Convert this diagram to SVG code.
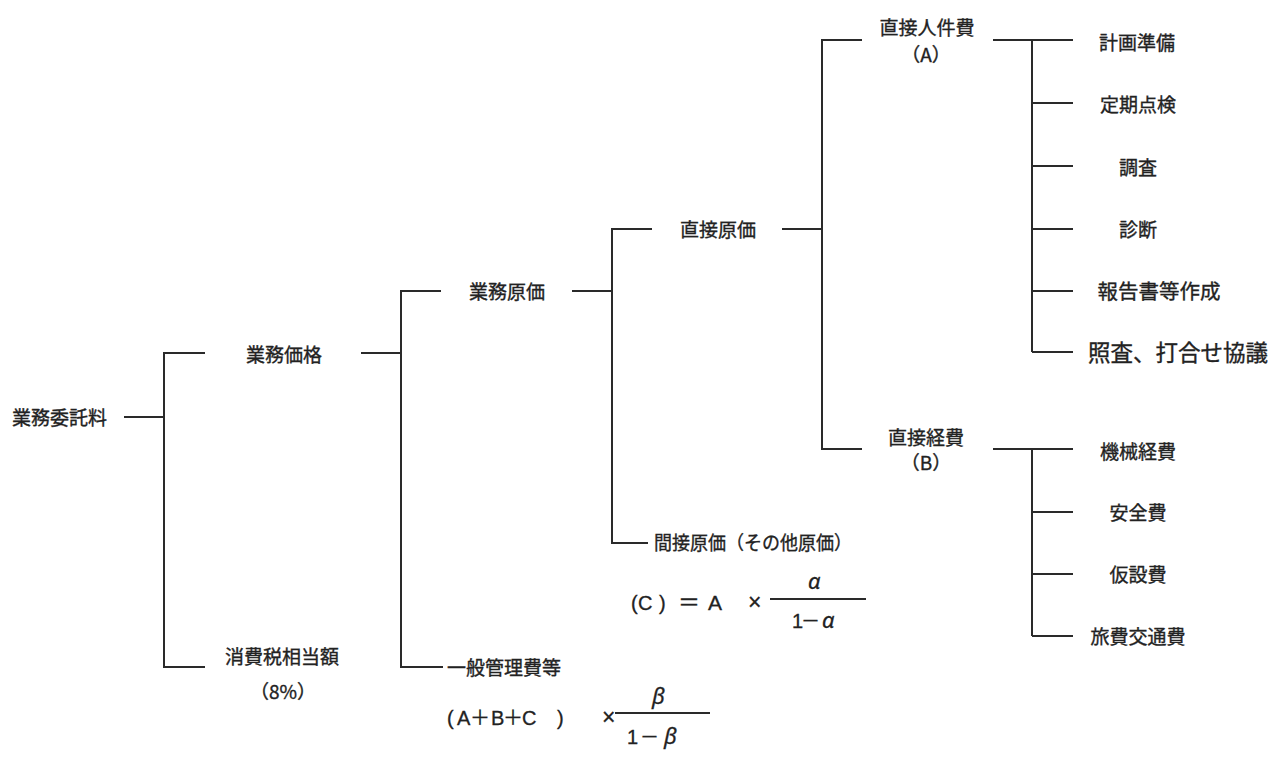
<svg xmlns="http://www.w3.org/2000/svg" width="1270" height="758" viewBox="0 0 1270 758">
<style>
.t{font-family:"Noto Sans CJK JP","Noto Sans",sans-serif;font-size:19px;fill:#222;stroke:#222;stroke-width:0.35;text-anchor:middle}
.s{text-anchor:start}
.f{font-family:"Liberation Sans","Noto Sans CJK JP",sans-serif;font-size:20px;fill:#222;stroke:#222;stroke-width:0.3}
.w{font-family:"Noto Sans CJK JP","Noto Sans",sans-serif;font-size:19px;fill:#222;stroke:#222;stroke-width:0.3}
.g{font-family:"Noto Sans","Liberation Sans",sans-serif;font-style:italic;font-size:22px;fill:#222;stroke:#222;stroke-width:0.3}
.c{fill:none;stroke:#2a2a2a;stroke-width:2}
</style>
<rect width="1270" height="758" fill="#fff"/>
<g id="connectors" class="c">
<path d="M124 417H164"/>
<path d="M205 353H164V667H205"/>
<path d="M361 353H401"/>
<path d="M441 291H401V667H443"/>
<path d="M572 291H612"/>
<path d="M652 229H612V543H648"/>
<path d="M782 229H822"/>
<path d="M862 40H822V449H862"/>
<path d="M993 40H1073M1032 40V352M1032 103H1073M1032 166H1073M1032 229H1073M1032 291H1073M1032 352H1073"/>
<path d="M993 449H1073M1032 449V636M1032 512H1073M1032 574H1073M1032 636H1073"/>
<path d="M770 599H866"/>
<path d="M615 713H710"/>
</g>
<g id="n-itaku"><text class="t s" x="12" y="425">業務委託料</text></g>
<g id="n-kakaku"><text class="t" x="284" y="362">業務価格</text></g>
<g id="n-shohizei"><text class="t" x="282" y="664">消費税相当額</text><text class="t" x="283" y="699">（8%）</text></g>
<g id="n-genka"><text class="t" x="507" y="299">業務原価</text></g>
<g id="n-ippan"><text class="t s" x="447" y="675">一般管理費等</text></g>
<g id="n-chokusetsu"><text class="t" x="718" y="237">直接原価</text></g>
<g id="n-kansetsu"><text class="t s" x="654" y="550" textLength="198" lengthAdjust="spacingAndGlyphs">間接原価（その他原価）</text></g>
<g id="n-jinken"><text class="t" x="927" y="35">直接人件費</text><text class="t" x="926" y="62">（A）</text></g>
<g id="n-keihi"><text class="t" x="926" y="445">直接経費</text><text class="t" x="926" y="470">（B）</text></g>
<g id="n-keikaku"><text class="t" x="1137" y="50">計画準備</text></g>
<g id="n-teiki"><text class="t" x="1138" y="112">定期点検</text></g>
<g id="n-chosa"><text class="t" x="1138" y="175">調査</text></g>
<g id="n-shindan"><text class="t" x="1138" y="237">診断</text></g>
<g id="n-hokoku"><text class="t" x="1159" y="299" style="font-size:20.5px">報告書等作成</text></g>
<g id="n-shosa"><text class="t s" x="1088" y="361" style="font-size:22.5px">照査、打合せ協議</text></g>
<g id="n-kikai"><text class="t" x="1138" y="459">機械経費</text></g>
<g id="n-anzen"><text class="t" x="1138" y="520">安全費</text></g>
<g id="n-kasetsu"><text class="t" x="1138" y="582">仮設費</text></g>
<g id="n-ryohi"><text class="t" x="1138" y="644">旅費交通費</text></g>
<g id="formula-c">
<text class="f" x="631 638 659" y="610">(C)</text>
<text class="w" x="678" y="610" style="font-size:22px">＝</text>
<text class="f" x="708" y="610" style="font-size:21px">A</text>
<text class="f" x="748" y="610" style="font-size:23px">×</text>
<text class="g" x="808" y="589">α</text>
<text class="f" x="792" y="628">1</text>
<text class="w" x="801" y="628">－</text>
<text class="g" x="822" y="628">α</text>
</g>
<g id="formula-ippan">
<text class="f" x="447 457 470 491 503 522 557" y="725">(A＋B＋C)</text>
<text class="f" x="602" y="725" style="font-size:23px">×</text>
<text class="g" x="652" y="704">β</text>
<text class="f" x="627" y="744">1</text>
<text class="w" x="640" y="744">－</text>
<text class="g" x="664" y="744">β</text>
</g>
</svg>
